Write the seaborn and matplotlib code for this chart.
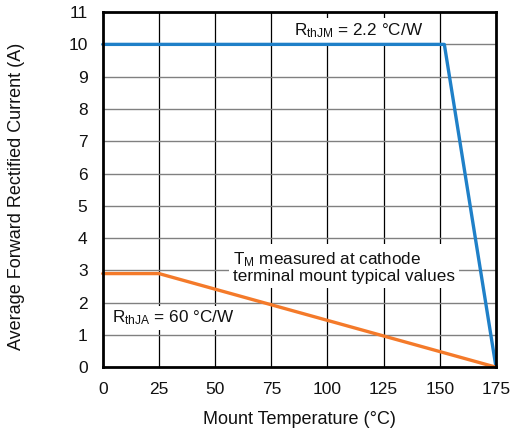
import matplotlib
matplotlib.use("Agg")
import matplotlib.pyplot as plt
import seaborn as sns
import numpy as np

# Data
blue_x = [0, 152, 175]
blue_y = [10, 10, 0]
orange_x = [0, 25, 175]
orange_y = [2.9, 2.9, 0]
x_ticks = [0, 25, 50, 75, 100, 125, 150, 175]
y_ticks = list(range(0, 12))

sns.set_theme(style="white")
plt.rcParams['font.family'] = ['Liberation Sans', 'DejaVu Sans']
plt.rcParams['mathtext.fontset'] = 'custom'
plt.rcParams['mathtext.rm'] = 'Liberation Sans'
plt.rcParams['mathtext.it'] = 'Liberation Sans'

fig = plt.figure(figsize=(5.14, 4.32), dpi=100)
ax = fig.add_axes([0.200, 0.150, 0.765, 0.822])

ax.set_xlim(0, 175)
ax.set_ylim(0, 11)
ax.set_xticks(x_ticks)
ax.set_yticks(y_ticks)

for xv in x_ticks[1:-1]:
    ax.axvline(xv, color='black', lw=0.9, zorder=1)
for yv in y_ticks[1:-1]:
    ax.axhline(yv, color='#808080', lw=1.0, zorder=1)

sns.lineplot(x=blue_x, y=blue_y, ax=ax, color='#1f80c8', lw=2.4,
             estimator=None, sort=False, zorder=4, clip_on=False)
sns.lineplot(x=orange_x, y=orange_y, ax=ax, color='#f47a2a', lw=2.4,
             estimator=None, sort=False, zorder=4, clip_on=False)

fs_ann = 12.3
box = dict(facecolor='white', edgecolor='none', pad=2)
ax.text(114, 10.43, r'R$_{\mathrm{thJM}}$ = 2.2 °C/W', ha='center', va='center',
        fontsize=fs_ann, color='#111111', bbox=box, zorder=3)
ax.text(57.9, 3.1, 'T$_{\\mathrm{M}}$ measured at cathode\nterminal mount typical values',
        ha='left', va='center', fontsize=fs_ann, color='#111111', linespacing=1.0,
        bbox=dict(facecolor='white', edgecolor='none', pad=3), zorder=3)
ax.text(4.0, 1.52, r'R$_{\mathrm{thJA}}$ = 60 °C/W', ha='left', va='center',
        fontsize=fs_ann, color='#111111', bbox=box, zorder=3)

for s in ax.spines.values():
    s.set_visible(True)
    s.set_color('black')
    s.set_linewidth(2.0)
    s.set_zorder(5)

ax.tick_params(axis='x', length=0, labelsize=12.5, colors='#111111', pad=11)
ax.tick_params(axis='y', length=0, labelsize=12.5, colors='#111111', pad=11)
ax.set_xlabel('Mount Temperature (°C)', fontsize=13, color='#111111', labelpad=10)
ax.set_ylabel('Average Forward Rectified Current (A)', fontsize=13, color='#111111', labelpad=12)
ax.yaxis.set_label_coords(-0.198, 0.48)

fig.savefig('out.png', dpi=100)
